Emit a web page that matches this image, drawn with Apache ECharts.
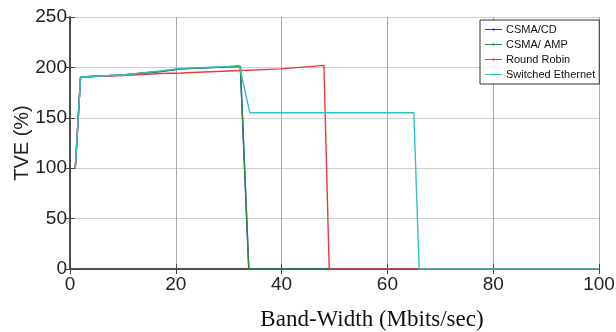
<!DOCTYPE html>
<html>
<head>
<meta charset="utf-8">
<script src="https://cdn.jsdelivr.net/npm/echarts@6/dist/echarts.min.js"></script>
<style>html,body{margin:0;padding:0;background:#fff}#c{width:616px;height:332px}</style>
</head>
<body>
<div id="c"></div>
<script>
// ---- data ----
const seriesNames = ['CSMA/CD', 'CSMA/ AMP', 'Round Robin', 'Switched Ethernet'];
const xTicks = [0, 20, 40, 60, 80, 100];
const yTicks = [0, 50, 100, 150, 200, 250];

const csmaCdBw  = [1, 2, 10, 17, 21, 30, 32.2, 33.8, 100];
const csmaCdTve = [100, 190.5, 192.5, 196, 198.5, 200.5, 201, 0, 0];

const csmaAmpBw  = [1, 2, 10, 17, 21, 30, 32.2, 33.8, 100];
const csmaAmpTve = [100, 190.5, 192.5, 196, 198.5, 200.5, 201, 0, 0];

const roundRobinBw  = [1, 2, 10, 17, 21, 30, 40, 48, 49, 100];
const roundRobinTve = [100, 190.5, 192, 194, 194.5, 196.5, 198.5, 202, 0, 0];

const switchedBw  = [1, 2, 10, 17, 21, 30, 32, 34, 65, 66, 100];
const switchedTve = [100, 190.5, 192.5, 196.5, 199, 201, 202, 155, 155, 0, 0];

const colors = ['#2b2bff', '#2a8a3e', '#e83a3a', '#2fc4c4'];

function pairs(xs, ys) { return xs.map((x, i) => [x, ys[i]]); }
const seriesData = [
  pairs(csmaCdBw, csmaCdTve),
  pairs(csmaAmpBw, csmaAmpTve),
  pairs(roundRobinBw, roundRobinTve),
  pairs(switchedBw, switchedTve)
];

const chart = echarts.init(document.getElementById('c'), null, {renderer: 'canvas'});
const tickFont = {fontFamily: 'Liberation Sans, Arial, sans-serif', fontSize: 19, color: '#222'};
const frame = {show: true, lineStyle: {color: '#444', width: 1.5}};
const legendIcon = 'path://M0,4.5L17,4.5L17,5.5L0,5.5Z M7.5,4L9.5,4L9.5,6L7.5,6Z';

chart.setOption({
  animation: false,
  backgroundColor: '#fff',
  grid: {left: 70, right: 17, top: 17, bottom: 63, containLabel: false, outerBoundsMode: 'none'},
  legend: {
    orient: 'vertical',
    left: 480, top: 20,
    padding: [4, 4, 4, 5],
    itemWidth: 17, itemHeight: 10, itemGap: 4,
    icon: legendIcon,
    backgroundColor: '#fff',
    borderColor: '#333', borderWidth: 1,
    textStyle: {fontFamily: 'Liberation Sans, Arial, sans-serif', fontSize: 11, color: '#111', padding: [0, 0, 0, -1]},
    data: seriesNames
  },
  xAxis: [{
    type: 'value', min: xTicks[0], max: xTicks[xTicks.length - 1], interval: 20,
    position: 'bottom',
    axisLine: frame,
    axisTick: {show: true, inside: true, length: 5, lineStyle: {color: '#444'}},
    axisLabel: Object.assign({margin: 6}, tickFont),
    splitLine: {show: true, lineStyle: {color: '#a8a8a8', width: 1}}
  }, {
    type: 'value', min: xTicks[0], max: xTicks[xTicks.length - 1], interval: 20,
    position: 'top',
    axisLine: frame,
    axisTick: {show: true, inside: true, length: 5, lineStyle: {color: '#444'}},
    axisLabel: {show: false},
    splitLine: {show: false}
  }],
  yAxis: [{
    type: 'value', min: yTicks[0], max: yTicks[yTicks.length - 1], interval: 50,
    position: 'left',
    name: 'TVE (%)', nameLocation: 'middle', nameGap: 38, nameRotate: 90,
    nameMoveOverlap: false,
    nameTextStyle: {fontFamily: 'Liberation Sans, Arial, sans-serif', fontSize: 20, color: '#222'},
    axisLine: frame,
    axisTick: {show: true, inside: true, length: 5, lineStyle: {color: '#444'}},
    axisLabel: Object.assign({margin: 3}, tickFont),
    splitLine: {show: true, lineStyle: {color: '#cfcfcf', width: 1}}
  }, {
    type: 'value', min: yTicks[0], max: yTicks[yTicks.length - 1], interval: 50,
    position: 'right',
    axisLine: frame,
    axisTick: {show: true, inside: true, length: 5, lineStyle: {color: '#444'}},
    axisLabel: {show: false},
    splitLine: {show: false}
  }],
  graphic: [{
    type: 'text',
    x: 372, y: 320,
    style: {
      text: 'Band-Width (Mbits/sec)',
      fontFamily: 'Liberation Serif, Times New Roman, serif',
      fontSize: 23, fill: '#111',
      align: 'center', verticalAlign: 'middle'
    }
  }],
  series: seriesNames.map((name, i) => ({
    name: name,
    type: 'line',
    data: seriesData[i],
    xAxisIndex: 0, yAxisIndex: 0,
    showSymbol: false,
    symbol: 'circle', symbolSize: 3,
    lineStyle: {width: 1.4, color: colors[i]},
    itemStyle: {color: colors[i]},
    z: 2 + i
  }))
});
</script>
</body>
</html>
